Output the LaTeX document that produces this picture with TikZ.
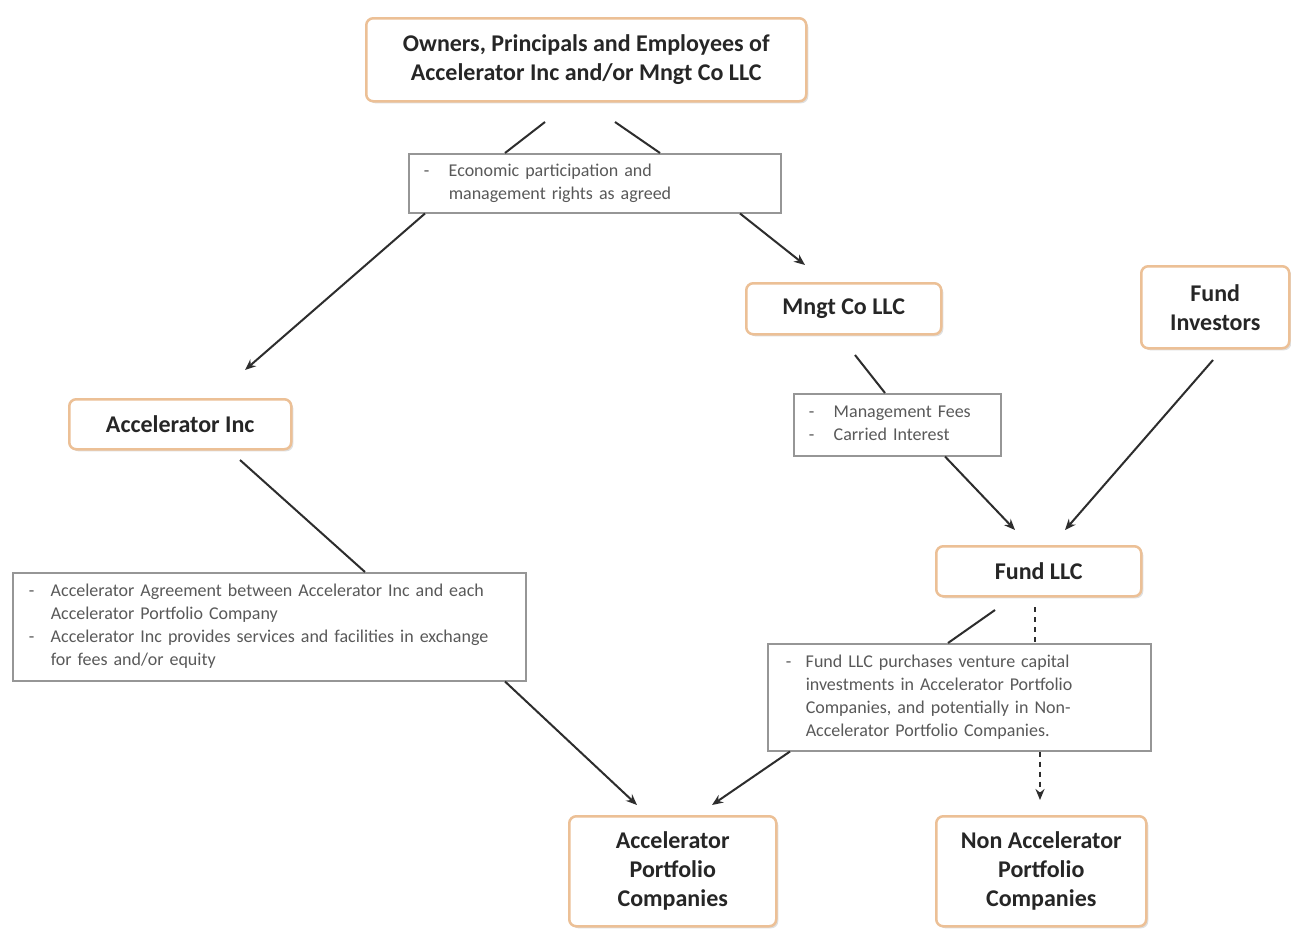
\documentclass[tikz,border=0pt]{standalone}
\usepackage{fontspec}
\setmainfont{Carlito}
\usetikzlibrary{arrows.meta,calc,shadows}
\definecolor{boxedge}{RGB}{236,192,150}
\definecolor{calloutedge}{RGB}{150,150,150}
\definecolor{linecol}{RGB}{45,45,45}
\newcommand{\dashrow}[2]{\begin{tabular}{@{}p{#1}@{}l@{}}#2\end{tabular}}
\begin{document}
\begin{tikzpicture}[x=1pt,y=-1pt,
  mainbox/.style={draw=boxedge, line width=2.5pt, rounded corners=7pt, fill=white,
    drop shadow={opacity=0.25, shadow xshift=2pt, shadow yshift=-2pt},
    font=\bfseries\fontsize{24}{29}\selectfont, align=center, inner sep=0pt,
    text=black!85, anchor=north west},
  callout/.style={draw=calloutedge, line width=1.5pt, fill=white,
    font=\fontsize{18}{23}\selectfont, text=black!65, align=left,
    anchor=north west, inner ysep=0pt},
  conn/.style={draw=linecol, line width=2pt},
  arr/.style={conn, -{Stealth[length=11pt,width=9pt]}},
  darr/.style={arr, dash pattern=on 5pt off 5pt},
  dline/.style={conn, dash pattern=on 5pt off 5pt}
]
\useasboundingbox (0,0) rectangle (1291,930);
\fill[white] (0,0) rectangle (1291,930);

% main boxes
\node[mainbox, minimum width=440pt, minimum height=83pt] (owners) at (365,17)
  {Owners, Principals and Employees of\\Accelerator Inc and/or Mngt Co LLC};
\node[mainbox, minimum width=195pt, minimum height=51pt] (mngt) at (745,282) {Mngt Co LLC};
\node[mainbox, minimum width=148pt, minimum height=82pt] (finv) at (1140,265) {Fund\\Investors};
\node[mainbox, minimum width=222pt, minimum height=50pt] (accinc) at (68,398) {Accelerator Inc};
\node[mainbox, minimum width=205pt, minimum height=50pt] (fundllc) at (935,545) {Fund LLC};
\node[mainbox, minimum width=207pt, minimum height=110pt] (apc) at (568,815)
  {Accelerator\\Portfolio\\Companies};
\node[mainbox, minimum width=210pt, minimum height=110pt] (napc) at (935,815)
  {Non Accelerator\\Portfolio\\Companies};

% callouts
\node[callout, minimum width=372pt, minimum height=59pt, text width=342pt, inner xsep=15pt] (econ) at (408,153)
  {\dashrow{25pt}{- & Economic participation and\\ & management rights as agreed}};
\node[callout, minimum width=207pt, minimum height=62pt, text width=177pt, inner xsep=15pt] (fees) at (793,393)
  {\dashrow{25pt}{- & Management Fees\\- & Carried Interest}};
\node[callout, minimum width=513pt, minimum height=108pt, text width=481pt, inner xsep=16pt] (agree) at (12,572)
  {\dashrow{22pt}{- & Accelerator Agreement between Accelerator Inc and each\\
   & Accelerator Portfolio Company\\
   - & Accelerator Inc provides services and facilities in exchange\\
   & for fees and/or equity}};
\node[callout, minimum width=383pt, minimum height=107pt, text width=347pt, inner xsep=18pt] (fbox) at (767,643)
  {\dashrow{20pt}{- & Fund LLC purchases venture capital\\
   & investments in Accelerator Portfolio\\
   & Companies, and potentially in Non-\\
   & Accelerator Portfolio Companies.}};

% free ends
\coordinate (o1) at (545,122);
\coordinate (o2) at (615,122);
\coordinate (a1) at (245,370);
\coordinate (m1) at (805,265);
\coordinate (mg) at (855,355);
\coordinate (f1) at (1015,530);
\coordinate (fi) at (1213,360);
\coordinate (f2) at (1065,530);
\coordinate (ai) at (240,460);
\coordinate (p1) at (637,805);
\coordinate (fl) at (995,610);
\coordinate (fd) at (1035,607);
\coordinate (p2) at (712,805);
\coordinate (p3) at (1040,800);

% connectors
\draw[conn] (o1) -- ($(econ.north west)+(97,0)$);
\draw[conn] (o2) -- ($(econ.north west)+(252,0)$);
\draw[arr] ($(econ.south west)+(17,0)$) -- (a1);
\draw[arr] ($(econ.south west)+(332,0)$) -- (m1);
\draw[conn] (mg) -- ($(fees.north west)+(92,0)$);
\draw[arr] ($(fees.south west)+(152,0)$) -- (f1);
\draw[arr] (fi) -- (f2);
\draw[conn] (ai) -- ($(agree.north west)+(353,0)$);
\draw[arr] ($(agree.south west)+(493,0)$) -- (p1);
\draw[conn] (fl) -- ($(fbox.north west)+(181,0)$);
\draw[dline] (fd) -- ($(fbox.north west)+(268,0)$);
\draw[arr] ($(fbox.south west)+(23,0)$) -- (p2);
\draw[darr] ($(fbox.south west)+(273,0)$) -- (p3);
\end{tikzpicture}
\end{document}
